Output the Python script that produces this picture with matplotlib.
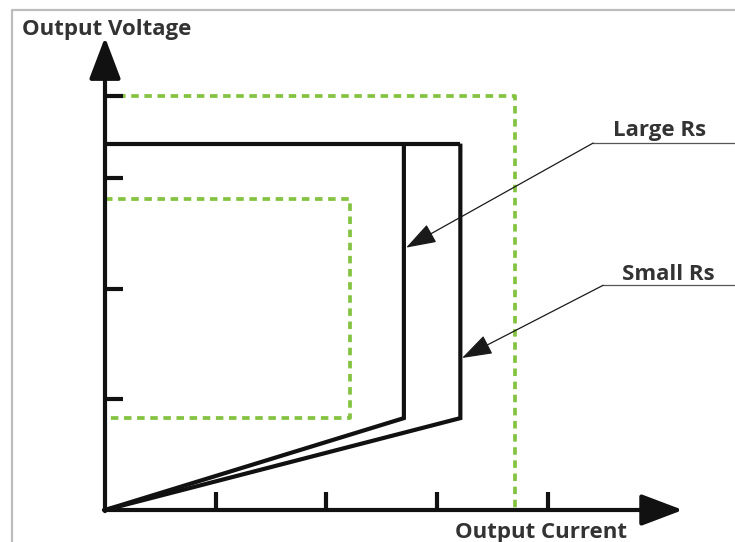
import matplotlib.pyplot as plt
from matplotlib.lines import Line2D

plt.rcParams['font.family'] = ['Open Sans', 'DejaVu Sans']

# ── Data (chart units, origin at the axes corner) ─────────────────────────────
x_ticks = [1, 2, 3, 4]
y_ticks = [1, 2, 3, 3.74]

# green dashed limit boxes
outer_box_x = [0, 3.70, 3.70]
outer_box_y = [3.74, 3.74, 0]
inner_box_x = [0, 2.21, 2.21, 0]
inner_box_y = [2.81, 2.81, 0.83, 0.83]

# black V-I curves
top_x = [0, 3.21]
top_y = [3.31, 3.31]
large_rs_x = [2.70, 2.70, 0]
large_rs_y = [3.31, 0.83, 0]
small_rs_x = [3.21, 3.21, 0]
small_rs_y = [3.31, 0.83, 0]

# callouts: label, text pos, elbow, arrow tip
callouts = [
    ('Large Rs', (4.59, 3.38), (4.41, 3.315), (2.72, 2.37)),
    ('Small Rs', (4.67, 2.08), (4.50, 2.03), (3.225, 1.373)),
]

x_arrow_tip = 5.22
y_arrow_tip = 4.27
tick_len = 0.16

# ── Figure ────────────────────────────────────────────────────────────────────
fig = plt.figure(figsize=(7.35, 5.42), dpi=100)
ax = fig.add_axes([0, 0, 1, 1])
unit = 110.7
ax.set_xlim(-105 / unit, (735 - 105) / unit)
ax.set_ylim((510 - 542) / unit, 510 / unit)
ax.axis('off')

# outer grey frame
fig.add_artist(Line2D([12 / 735, 12 / 735, 1], [0, 1 - 10 / 542, 1 - 10 / 542],
                      transform=fig.transFigure, color='#bdbdbd', lw=1.6))

green = '#84c341'
dash = dict(color=green, lw=2.7, linestyle=(0, (2.0, 1.5)), dash_capstyle='butt')
ax.plot(outer_box_x, outer_box_y, **dash)
ax.plot(inner_box_x, inner_box_y, **dash)

black = dict(color='#111111', lw=3, solid_joinstyle='miter', solid_capstyle='butt')
ax.plot(top_x, top_y, **black)
ax.plot(large_rs_x, large_rs_y, **black)
ax.plot(small_rs_x, small_rs_y, **black)

# axes with arrows
arrow = dict(arrowstyle='-|>,head_length=0.95,head_width=0.36', color='#111111',
             lw=3, shrinkA=0, shrinkB=0, mutation_scale=27)
ax.annotate('', xy=(x_arrow_tip, 0), xytext=(-0.01, 0), arrowprops=arrow)
ax.annotate('', xy=(0, y_arrow_tip), xytext=(0, -0.01), arrowprops=arrow)
for t in x_ticks:
    ax.plot([t, t], [0, tick_len], **black)
for t in y_ticks:
    ax.plot([0, tick_len], [t, t], **black)

# callouts
for label, txt, elbow, tip in callouts:
    ax.plot([elbow[0], 6], [elbow[1], elbow[1]], color='#555555', lw=0.9)
    ax.annotate('', xy=tip, xytext=elbow,
                arrowprops=dict(arrowstyle='-|>,head_length=0.95,head_width=0.32',
                                color='#1a1a1a', lw=0.9, shrinkA=0, shrinkB=0,
                                mutation_scale=20))
    ax.text(txt[0], txt[1], label, fontsize=16, fontweight='bold',
            color='#333333', ha='left', va='baseline')

ax.text(-83 / unit, (510 - 35) / unit, 'Output Voltage', fontsize=16,
        fontweight='bold', color='#333333', ha='left', va='baseline')
ax.text(350 / unit, (510 - 538) / unit, 'Output Current', fontsize=16,
        fontweight='bold', color='#333333', ha='left', va='baseline')

plt.savefig('out.png', dpi=100)
